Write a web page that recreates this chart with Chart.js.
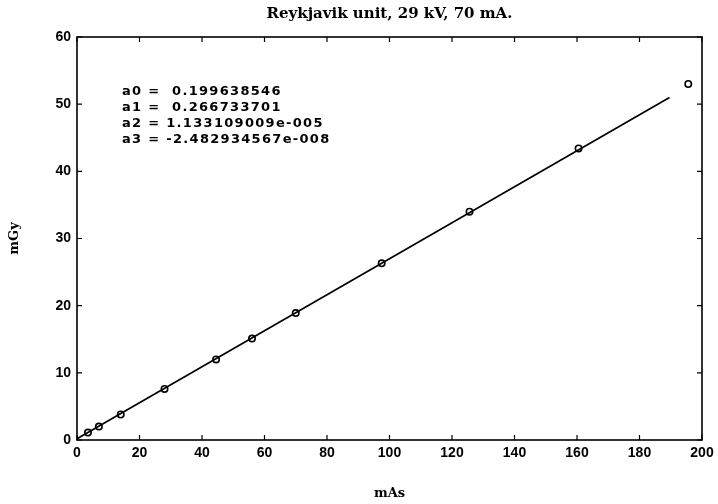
<!DOCTYPE html>
<html>
<head>
<meta charset="utf-8">
<script src="https://cdn.jsdelivr.net/npm/chart.js@4.4.0/dist/chart.umd.min.js"></script>
<style>
  html, body { margin: 0; padding: 0; background: #fff; }
  #wrap { width: 718px; height: 504px; }
</style>
</head>
<body>
<div id="wrap"><canvas id="dose-chart" width="718" height="504"></canvas></div>
<script>
// Dose measurements (mGy) against tube load (mAs)
const mAs = [3.5, 7, 14, 28, 44.5, 56, 70, 97.5, 125.6, 160.5, 195.6];
const mGy = [1.1, 2.0, 3.8, 7.6, 12.0, 15.1, 18.9, 26.3, 34.0, 43.4, 53.0];

// Fitted curve, taken along the drawn line
const fitMAs = [0, 100, 189.6];
const fitMGy = [0.2, 27.0, 51.0];

// Axis ranges and tick steps
const xRange = [0, 200];
const yRange = [0, 60];
const xStep = 20;
const yStep = 10;

// Polynomial coefficients printed inside the plot
const coefNames = ['a0', 'a1', 'a2', 'a3'];
const coefValues = ['0.199638546', '0.266733701', '1.133109009e-005', '-2.482934567e-008'];

const serif = "'DejaVu Serif', 'Liberation Serif', serif";
const sans = "'Liberation Sans', Arial, sans-serif";

// box around the plot with inward ticks on all four sides
const framePlugin = {
  id: 'frame',
  afterDatasetsDraw(chart) {
    const {ctx, chartArea: a, scales: {x, y}} = chart;
    const len = 5;
    ctx.save();
    ctx.strokeStyle = '#000';
    ctx.lineWidth = 1.6;
    ctx.strokeRect(a.left, a.top, a.right - a.left, a.bottom - a.top);
    ctx.lineWidth = 1.2;
    ctx.beginPath();
    x.ticks.forEach(t => {
      const px = x.getPixelForValue(t.value);
      ctx.moveTo(px, a.bottom); ctx.lineTo(px, a.bottom - len);
      ctx.moveTo(px, a.top); ctx.lineTo(px, a.top + len);
    });
    y.ticks.forEach(t => {
      const py = y.getPixelForValue(t.value);
      ctx.moveTo(a.left, py); ctx.lineTo(a.left + len, py);
      ctx.moveTo(a.right, py); ctx.lineTo(a.right - len, py);
    });
    ctx.stroke();
    ctx.restore();
  }
};

// coefficient listing in the upper left of the plot
const coefPlugin = {
  id: 'coefs',
  afterDraw(chart) {
    const {ctx} = chart;
    ctx.save();
    ctx.fillStyle = '#000';
    ctx.font = "bold 13px 'DejaVu Sans', sans-serif";
    ctx.textBaseline = 'middle';
    ctx.textAlign = 'left';
    if ('letterSpacing' in ctx) ctx.letterSpacing = '1.3px';
    coefNames.forEach((name, i) => {
      const gap = coefValues[i].startsWith('0.') ? '  ' : ' ';
      ctx.fillText(name + ' =' + gap + coefValues[i], 122, 92 + i * 16);
    });
    ctx.restore();
  }
};

new Chart(document.getElementById('dose-chart'), {
  type: 'scatter',
  data: {
    datasets: [
      {
        label: 'fit',
        data: fitMAs.map((v, i) => ({x: v, y: fitMGy[i]})),
        showLine: true,
        borderColor: '#000',
        borderWidth: 1.7,
        pointRadius: 0,
        tension: 0
      },
      {
        label: 'measured',
        data: mAs.map((v, i) => ({x: v, y: mGy[i]})),
        showLine: false,
        pointStyle: 'circle',
        pointRadius: 3.2,
        borderColor: '#000',
        backgroundColor: 'rgba(255,255,255,0)',
        borderWidth: 1.6
      }
    ]
  },
  options: {
    responsive: false,
    animation: false,
    layout: {padding: {left: 0, right: 16, top: 0, bottom: 0}},
    plugins: {
      legend: {display: false},
      tooltip: {enabled: false},
      title: {
        display: true,
        fullSize: false,
        text: 'Reykjavik unit, 29 kV, 70 mA.',
        color: '#000',
        font: {family: serif, weight: 'bold', size: 15},
        padding: {top: 5, bottom: 14}
      }
    },
    scales: {
      x: {
        type: 'linear',
        min: xRange[0],
        max: xRange[1],
        grid: {display: false, drawTicks: false},
        border: {display: false},
        ticks: {
          stepSize: xStep,
          color: '#000',
          padding: 5,
          maxRotation: 0,
          font: {family: sans, weight: 'bold', size: 14}
        },
        title: {
          display: true,
          text: 'mAs',
          color: '#000',
          font: {family: serif, weight: 'bold', size: 13},
          padding: {top: 0, bottom: 3}
        },
        afterFit(scale) {
          scale.height = 64;
          scale.paddingLeft = 0;
          scale.paddingRight = 0;
        }
      },
      y: {
        type: 'linear',
        min: yRange[0],
        max: yRange[1],
        grid: {display: false, drawTicks: false},
        border: {display: false},
        ticks: {
          stepSize: yStep,
          color: '#000',
          padding: 6,
          font: {family: sans, weight: 'bold', size: 14}
        },
        title: {
          display: true,
          text: 'mGy',
          color: '#000',
          font: {family: serif, weight: 'bold', size: 13},
          padding: {top: 7, bottom: 0}
        },
        afterFit(scale) {
          scale.width = 77;
          scale.paddingTop = 0;
          scale.paddingBottom = 0;
        }
      }
    }
  },
  plugins: [framePlugin, coefPlugin]
});
</script>
</body>
</html>
